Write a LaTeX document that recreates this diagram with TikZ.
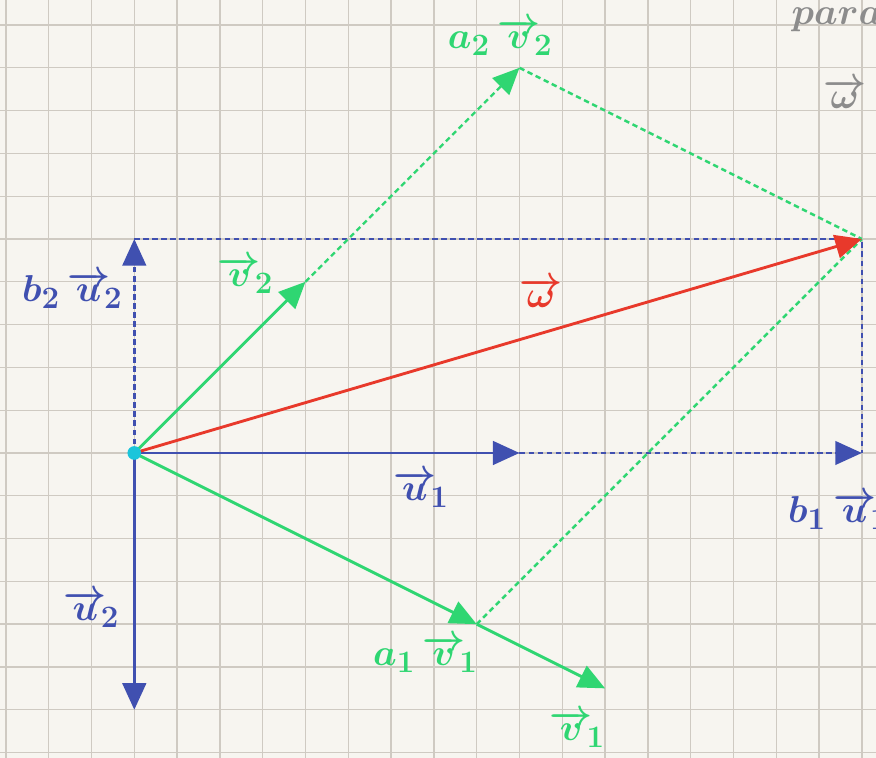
\documentclass[tikz,border=0pt]{standalone}
\usetikzlibrary{arrows.meta}
\definecolor{bgc}{HTML}{F7F5F0}
\definecolor{gridc}{HTML}{CFCAC2}
\definecolor{bl}{HTML}{4050B0}
\definecolor{gr}{HTML}{2FD672}
\definecolor{rd}{HTML}{E8392B}
\definecolor{cy}{HTML}{1BC5DB}
\definecolor{gy}{HTML}{8C8C8C}
\tikzset{
  tip/.style={-{Triangle[length=0.62cm,width=0.55cm]}},
  solidvec/.style={line width=1.9pt, tip},
  dashvec/.style={line width=1.6pt, dash pattern=on 3.6pt off 2.4pt},
  lab/.style={font=\fontsize{30}{34}\selectfont\boldmath, inner sep=0pt},
  gridline/.style={gridc, line width=0.9pt},
}
\begin{document}
\begin{tikzpicture}
\useasboundingbox (-3.138,-7.126) rectangle (17.33,10.584);
\clip (-3.138,-7.126) rectangle (17.33,10.584);
\fill[bgc] (-3.138,-7.126) rectangle (17.33,10.584);
\foreach \x in {-3,...,17} \draw[gridline] (\x,-7.2) -- (\x,10.7);
\foreach \y in {-7,...,10} \draw[gridline] (-3.2,\y) -- (17.4,\y);

\coordinate (O) at (0,0);
\coordinate (U1) at (9,0);
\coordinate (B1) at (17,0);
\coordinate (B2) at (0,5);
\coordinate (U2) at (0,-6);
\coordinate (W) at (17,5);
\coordinate (V2) at (4,4);
\coordinate (A2) at (9,9);
\coordinate (A1) at (8,-4);
\coordinate (V1) at (11,-5.5);

% blue dashed parallelogram
\draw[bl, dashvec] (B2) -- (W) -- (B1);
\draw[bl, dashvec, tip] (O) -- (B2);
\draw[bl, dashvec, tip] (U1) -- (B1);
% green dashed
\draw[gr, dashvec, tip] (V2) -- (A2);
\draw[gr, dashvec] (A2) -- (W);
\draw[gr, dashvec] (A1) -- (W);
% solid vectors
\draw[bl, solidvec] (O) -- (U1);
\draw[bl, solidvec] (O) -- (U2);
\draw[gr, solidvec] (O) -- (V2);
\draw[gr, solidvec] (O) -- (A1);
\draw[gr, solidvec] (A1) -- (V1);
\draw[rd, solidvec] (O) -- (W);
\fill[cy] (O) circle (0.16);

% labels
\node[lab, text=bl] (lb2) at (-1.45,3.8) {$b_2\,\overrightarrow{u}_{\!2}$};
\node[lab, text=gr] (lv2) at (2.6,4.15) {$\overrightarrow{v}_{\!2}$};
\node[lab, text=rd] (lw) at (9.5,3.75) {$\overrightarrow{\omega}$};
\node[lab, text=bl] (lu1) at (6.7,-0.85) {$\overrightarrow{u}_{\!1}$};
\node[lab, text=bl] (lb1) at (16.45,-1.35) {$b_1\,\overrightarrow{u}_{\!1}$};
\node[lab, text=bl] (lu2) at (-1.0,-3.65) {$\overrightarrow{u}_{\!2}$};
\node[lab, text=gr] (la1) at (6.8,-4.7) {$a_1\,\overrightarrow{v}_{\!1}$};
\node[lab, text=gr] (lv1) at (10.35,-6.45) {$\overrightarrow{v}_{\!1}$};
\node[lab, text=gr] (la2) at (8.55,9.72) {$a_2\,\overrightarrow{v}_{\!2}$};
\node[lab, text=gy, anchor=west] (lpara) at (15.35,10.12) {$para$};
\node[lab, text=gy] (lwg) at (16.6,8.4) {$\overrightarrow{\omega}$};
\end{tikzpicture}
\end{document}
